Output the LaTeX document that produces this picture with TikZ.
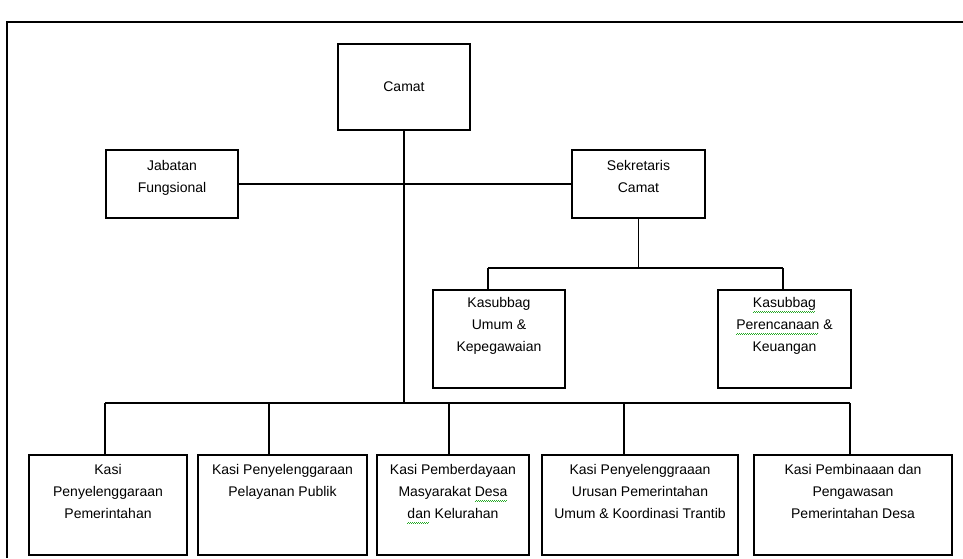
\documentclass[tikz,border=0pt]{standalone}
\usepackage{fontspec}
\setmainfont{Liberation Sans}
\usetikzlibrary{positioning}
\definecolor{squiggle}{RGB}{40,170,40}
\newcommand{\spellmark}[1]{\setbox0\hbox{#1}\rlap{\textcolor{squiggle}{\leaders\hbox{\rule[-4.6pt]{1pt}{0.6pt}\rule[-4pt]{1pt}{0.6pt}}\hskip\wd0}}\box0\relax}

\begin{document}
\begin{tikzpicture}[x=1pt,y=-1pt,
  unit/.style={draw,line width=1.3pt,inner sep=0pt},
  txt/.style={align=center,inner sep=0pt,font=\fontsize{14}{22}\selectfont},
  link/.style={line width=1.1pt}]

\useasboundingbox (0,0) rectangle (963,558);
\draw[line width=1.1pt] (963,22) -- (7,22) -- (7,558);

%Pimpinan

\node[unit,txt,minimum width=132pt,minimum height=86pt] (camat) at (404,87) {Camat};
\node[unit,minimum width=132pt,minimum height=68pt] (jabatan) at (172,184) {};
\node[unit,minimum width=133pt,minimum height=68pt] (sekcam) at (638.5,184) {};
\node[txt,below=11pt of jabatan.north] (jabatan-t) {Jabatan\\Fungsional};
\node[txt,below=11pt of sekcam.north] (sekcam-t) {Sekretaris\\Camat};

%Subbagian

\node[unit,minimum width=132pt,minimum height=98pt] (umum) at (499,339) {};
\node[unit,minimum width=133pt,minimum height=98pt] (renc) at (784.5,339) {};
\node[txt,below=8pt of umum.north] (umum-t) {Kasubbag\\Umum \&\\Kepegawaian};
\node[txt,below=8pt of renc.north] (renc-t) {\spellmark{Kasubbag}\\\spellmark{Perencanaan} \&\\Keuangan};

%Seksi

\node[unit,minimum width=158pt,minimum height=100pt] (kasi1) at (108,505) {};
\node[unit,minimum width=169pt,minimum height=100pt] (kasi2) at (282.5,505) {};
\node[unit,minimum width=152pt,minimum height=100pt] (kasi3) at (453,505) {};
\node[unit,minimum width=196pt,minimum height=100pt] (kasi4) at (640,505) {};
\node[unit,minimum width=198pt,minimum height=100pt] (kasi5) at (853,505) {};
\node[txt,below=10pt of kasi1.north] (kasi1-t) {Kasi\\Penyelenggaraan\\Pemerintahan};
\node[txt,below=10pt of kasi2.north] (kasi2-t) {Kasi Penyelenggaraan\\Pelayanan Publik};
\node[txt,below=10pt of kasi3.north] (kasi3-t) {Kasi Pemberdayaan\\Masyarakat \spellmark{Desa}\\\spellmark{dan} Kelurahan};
\node[txt,below=10pt of kasi4.north] (kasi4-t) {Kasi Penyelenggraaan\\Urusan Pemerintahan\\Umum \& Koordinasi Trantib};
\node[txt,below=10pt of kasi5.north] (kasi5-t) {Kasi Pembinaaan dan\\Pengawasan\\Pemerintahan Desa};

%Garis

\draw[link] (jabatan) -- (sekcam);

\coordinate (s1) at (488,268);
\coordinate (s2) at (783,268);
\draw[link] (sekcam) -- (sekcam |- s1);
\draw[link] (s1) -- (s2);
\draw[link] (s1) -- (s1 |- umum.north);
\draw[link] (s2) -- (s2 |- renc.north);

\foreach \i/\x in {1/105,2/269,3/449,4/624,5/850}{
  \coordinate (b\i) at (\x,403);
  \draw[link] (b\i) -- (b\i |- kasi\i.north);
}
\draw[link] (b1) -- (b5);
\draw[link] (camat) -- (camat |- b1);

\end{tikzpicture}
\end{document}
